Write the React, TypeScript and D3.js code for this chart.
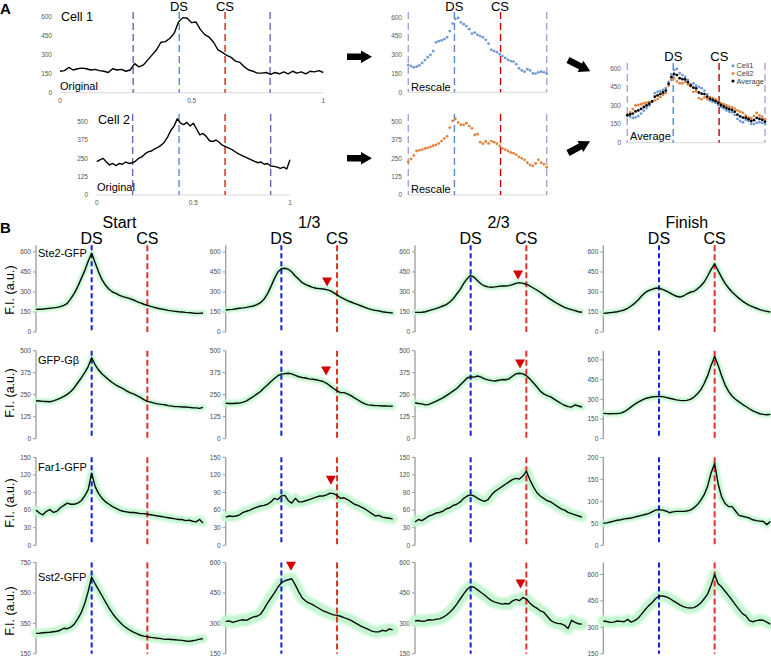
import React from 'react';
import * as d3 from 'd3';

const FONT = "'Liberation Sans', Arial, sans-serif";

// ---------------- Panel A data ----------------
// raw profiles along the cell (0..1), one value per step
const cell1Original = [170, 175, 200, 180, 190, 195, 190, 180, 185, 175, 170, 160, 190, 180, 185, 170, 180, 230, 205, 220, 260, 300, 340, 400, 405, 430, 470, 560, 595, 590, 555, 560, 500, 460, 440, 400, 340, 320, 295, 280, 250, 240, 205, 180, 170, 155, 155, 160, 145, 160, 150, 165, 150, 170, 155, 165, 150, 170, 165, 175, 160];
const cell2Original = [227, 240, 250, 225, 205, 215, 200, 215, 210, 225, 215, 220, 230, 250, 260, 280, 295, 300, 315, 325, 340, 360, 395, 440, 470, 520, 490, 480, 495, 470, 490, 450, 410, 420, 400, 370, 365, 375, 360, 340, 330, 320, 310, 295, 280, 270, 260, 250, 240, 230, 220, 225, 210, 215, 198, 195, 190, 182, 190, 178, 240];

// rescaled between the two purple marks
const cell1Rescaled = [218, 210, 200, 205, 215, 235, 258, 280, 300, 330, 400, 410, 415, 425, 440, 490, 550, 588, 595, 560, 545, 530, 505, 470, 478, 460, 450, 440, 420, 390, 340, 330, 322, 305, 290, 275, 260, 250, 245, 225, 192, 175, 165, 185, 175, 152, 150, 160, 165, 160, 150];
const cell2Rescaled = [225, 245, 270, 300, 305, 310, 318, 322, 328, 336, 342, 352, 368, 385, 400, 460, 505, 520, 495, 480, 478, 490, 470, 455, 410, 415, 360, 350, 365, 352, 368, 360, 350, 335, 318, 310, 300, 290, 285, 275, 260, 250, 240, 220, 205, 198, 215, 240, 220, 210, 190];
const averageRescaled = [222, 228, 235, 252, 260, 272, 288, 301, 314, 333, 371, 381, 392, 405, 420, 475, 528, 554, 545, 520, 512, 510, 488, 462, 444, 438, 405, 395, 392, 371, 354, 345, 336, 320, 304, 292, 280, 270, 265, 250, 226, 212, 202, 202, 190, 175, 182, 200, 192, 185, 170];

// purple / DS / CS / purple positions along each cell
const cell1Marks = [0.278, 0.453, 0.627, 0.798];
const cell2Marks = [0.186, 0.426, 0.664, 0.9];
const rescaledMarks = [0, 1 / 3, 2 / 3, 1];

const ticksA600 = [0, 150, 300, 450, 600];
const ticksA500 = [0, 125, 250, 375, 500];
const ticksLength = [0, 0.5, 1];
const legendNames = ['Cell1', 'Cell2', 'Average'];

// ---------------- Panel B data ----------------
const stageNames = ['Start', '1/3', '2/3', 'Finish'];
const proteinNames = ['Ste2-GFP', 'GFP-Gβ', 'Far1-GFP', 'Sst2-GFP'];
const siteMarks = [1 / 3, 2 / 3]; // DS, CS

const ste2Start = [170, 171, 172, 175, 178, 181, 185, 190, 200, 215, 250, 290, 340, 400, 460, 530, 590, 520, 450, 390, 350, 320, 300, 290, 275, 265, 258, 250, 240, 228, 218, 208, 200, 192, 185, 178, 172, 168, 162, 158, 155, 152, 150, 147, 145, 142, 140, 140, 142];
const ste2Third = [165, 168, 170, 174, 178, 181, 185, 190, 195, 205, 220, 245, 285, 340, 400, 450, 475, 478, 470, 450, 420, 395, 370, 355, 345, 335, 328, 325, 322, 318, 310, 295, 278, 262, 248, 235, 225, 215, 205, 195, 185, 175, 168, 162, 158, 152, 148, 145, 142];
const ste2TwoThird = [147, 147, 148, 152, 160, 168, 175, 185, 195, 205, 225, 250, 285, 320, 365, 400, 425, 410, 385, 360, 345, 338, 335, 338, 342, 345, 345, 348, 355, 365, 370, 365, 358, 345, 330, 315, 298, 280, 262, 245, 228, 212, 198, 185, 175, 168, 160, 152, 148];
const ste2Finish = [140, 142, 145, 148, 152, 158, 165, 178, 195, 215, 240, 270, 295, 310, 320, 328, 330, 320, 308, 295, 280, 268, 262, 270, 285, 298, 305, 322, 345, 375, 420, 470, 510, 460, 410, 365, 330, 300, 275, 252, 232, 215, 200, 188, 178, 168, 160, 155, 150];

const gbStart = [216, 214, 212, 211, 210, 215, 222, 230, 240, 252, 268, 290, 318, 345, 375, 410, 460, 420, 390, 368, 350, 333, 318, 305, 295, 285, 272, 262, 255, 245, 235, 222, 212, 208, 202, 198, 195, 193, 188, 185, 182, 182, 180, 180, 178, 176, 175, 172, 178];
const gbThird = [201, 200, 200, 201, 202, 208, 215, 228, 240, 255, 268, 288, 305, 325, 342, 358, 367, 370, 372, 368, 360, 352, 348, 345, 340, 338, 335, 330, 325, 315, 300, 285, 272, 262, 262, 255, 245, 232, 220, 208, 198, 192, 190, 188, 188, 186, 186, 185, 184];
const gbTwoThird = [204, 200, 198, 192, 195, 203, 212, 222, 232, 245, 258, 272, 285, 305, 325, 345, 352, 350, 356, 350, 340, 334, 330, 328, 332, 336, 335, 340, 355, 368, 372, 368, 358, 340, 318, 295, 270, 255, 245, 238, 225, 212, 200, 190, 182, 180, 192, 186, 180];
const gbFinish = [193, 191, 190, 191, 192, 195, 205, 222, 242, 262, 278, 292, 305, 312, 318, 320, 322, 320, 315, 308, 302, 296, 292, 290, 292, 300, 315, 340, 372, 420, 480, 560, 625, 560, 480, 410, 360, 325, 300, 280, 262, 245, 228, 212, 200, 190, 185, 182, 185];

const far1Start = [60, 55, 52, 58, 61, 56, 58, 64, 68, 72, 70, 70, 72, 76, 84, 95, 123, 100, 88, 80, 74, 70, 66, 63, 60, 58, 57, 56, 56, 55, 54, 54, 53, 52, 51, 50, 49, 48, 47, 46, 45, 44, 44, 42, 43, 41, 40, 44, 38];
const far1Third = [48, 50, 49, 50, 52, 56, 58, 60, 63, 65, 67, 68, 70, 74, 80, 78, 84, 85, 76, 72, 80, 74, 74, 76, 78, 80, 82, 84, 84, 86, 89, 88, 85, 80, 81, 78, 74, 70, 68, 65, 62, 58, 54, 50, 51, 48, 47, 46, 45];
const far1TwoThird = [40, 44, 42, 46, 50, 52, 55, 56, 58, 62, 64, 68, 70, 74, 80, 84, 86, 84, 80, 77, 75, 78, 86, 92, 96, 100, 104, 108, 112, 114, 113, 118, 126, 112, 100, 90, 84, 80, 76, 74, 70, 66, 62, 60, 56, 54, 52, 50, 48];
const far1Finish = [50, 51, 53, 55, 57, 58, 60, 61, 62, 64, 66, 68, 70, 72, 76, 80, 81, 80, 78, 74, 76, 77, 77, 77, 78, 80, 85, 92, 102, 115, 135, 165, 186, 140, 110, 95, 88, 88, 78, 68, 66, 64, 62, 58, 56, 55, 54, 47, 54];

const sst2Start = [284, 285, 288, 290, 292, 295, 298, 305, 318, 315, 325, 345, 380, 420, 480, 560, 655, 610, 570, 530, 490, 450, 415, 385, 360, 338, 320, 305, 292, 282, 272, 266, 262, 258, 255, 252, 250, 245, 246, 244, 242, 240, 238, 234, 232, 236, 240, 246, 250];
const sst2Third = [310, 312, 305, 310, 315, 318, 315, 325, 332, 335, 345, 370, 400, 425, 450, 478, 500, 510, 515, 520, 490, 455, 425, 410, 400, 392, 382, 372, 362, 355, 348, 342, 340, 335, 328, 322, 315, 305, 295, 285, 278, 270, 262, 258, 258, 266, 262, 272, 268];
const sst2TwoThird = [312, 314, 310, 312, 318, 316, 320, 322, 330, 340, 355, 372, 395, 420, 445, 468, 482, 478, 465, 452, 440, 425, 412, 405, 400, 395, 398, 396, 410, 418, 412, 428, 420, 400, 385, 375, 362, 355, 335, 315, 305, 300, 298, 290, 275, 315, 305, 298, 296];
const sst2Finish = [336, 333, 328, 330, 336, 334, 332, 345, 330, 338, 352, 375, 400, 422, 440, 462, 478, 478, 474, 465, 452, 440, 428, 418, 412, 410, 412, 422, 438, 462, 490, 540, 600, 548, 530, 505, 480, 455, 428, 402, 378, 365, 338, 332, 338, 342, 340, 330, 318];

const profiles = [
  [ste2Start, ste2Third, ste2TwoThird, ste2Finish],
  [gbStart, gbThird, gbTwoThird, gbFinish],
  [far1Start, far1Third, far1TwoThird, far1Finish],
  [sst2Start, sst2Third, sst2TwoThird, sst2Finish],
];

const yDomains = [
  [[0, 650], [0, 650], [0, 650], [0, 650]],
  [[0, 500], [0, 500], [0, 500], [0, 670]],
  [[0, 150], [0, 150], [0, 150], [0, 200]],
  [[150, 750], [150, 600], [150, 600], [150, 668]],
];
const ticks600 = [0, 150, 300, 450, 600];
const ticks500 = [0, 125, 250, 375, 500];
const ticks150 = [0, 30, 60, 90, 120, 150];
const ticks200 = [0, 50, 100, 150, 200];
const ticks750 = [150, 350, 550, 750];
const ticksSst = [150, 300, 450, 600];
const yTicks = [
  [ticks600, ticks600, ticks600, ticks600],
  [ticks500, ticks500, ticks500, ticks600],
  [ticks150, ticks150, ticks150, ticks200],
  [ticks750, ticksSst, ticksSst, ticksSst],
];

// red arrowheads: row, column, position along cell, intensity
const arrowRows = [0, 0, 1, 1, 2, 3, 3];
const arrowCols = [1, 2, 1, 2, 1, 1, 2];
const arrowPos = [0.607, 0.617, 0.601, 0.629, 0.63, 0.391, 0.632];
const arrowValues = [375, 428, 385, 424, 111, 582, 494];

// ---------------- layout ----------------
const colX = [36, 225.7, 415, 603.3];
const plotW = 167;
const rowBox = [[332, 245.3], [438.7, 350.7], [545.3, 457.3], [653.8, 562.5]];
const bandW = [[6, 6, 6, 6], [6, 7, 7, 6], [8, 10, 10, 7], [9, 12, 12, 11]];
const proteinBaseline = [257, 364, 471, 581];
const fiCenter = [290, 393, 503, 611];

const DS_BLUE = '#1320d6';
const CS_RED = '#e0312c';

type TraceProps = {
  series: { values: number[]; color: string }[];
  dots?: boolean;
  x0: number;
  x1: number;
  yDomain: [number, number];
  yBottom: number;
  yTop: number;
  ticks: number[];
  labelX: number;
  marks: number[];
  markColors: string[];
  markTop: number;
  xTicks?: number[];
  xLabelY?: number;
};

function TraceA(p: TraceProps) {
  const x = d3.scaleLinear().domain([0, 1]).range([p.x0, p.x1]);
  const y = d3.scaleLinear().domain(p.yDomain).range([p.yBottom, p.yTop]);
  return (
    <g>
      <line x1={p.x0} x2={p.x1} y1={p.yBottom} y2={p.yBottom} stroke="#d9d9d9" strokeWidth={1} />
      {p.ticks.map((t) => (
        <text key={t} x={p.labelX} y={y(t)} dy="0.35em" textAnchor="end" fontSize={6.5} fill="#595959">{t}</text>
      ))}
      {p.xTicks && p.xTicks.map((t) => (
        <text key={t} x={x(t)} y={p.xLabelY} dy="0.35em" textAnchor="middle" fontSize={6.5} fill="#595959">{t}</text>
      ))}
      {p.marks.map((m, i) => (
        <line key={i} x1={x(m)} x2={x(m)} y1={p.markTop} y2={p.yBottom} stroke={p.markColors[i]} strokeWidth={1.4} strokeDasharray="7,4" />
      ))}
      {p.series.map((s, k) => {
        const n = s.values.length - 1;
        if (p.dots) {
          return (
            <g key={k}>
              {s.values.map((v, i) => (
                <circle key={i} cx={x(i / n)} cy={y(v)} r={1.4} fill={s.color} />
              ))}
            </g>
          );
        }
        const line = d3.line<number>().x((_, i) => x(i / n)).y((d) => y(d));
        return <path key={k} d={line(s.values) || ''} fill="none" stroke={s.color} strokeWidth={1.4} strokeLinejoin="round" />;
      })}
    </g>
  );
}

const arrowShape = 'M0,-3.3 L14,-3.3 L14,-6.2 L25,0 L14,6.2 L14,3.3 L0,3.3 Z';

function PanelA() {
  const purple1 = '#7d5db3';
  const purple2 = '#ada0d6';
  const blueA = '#5a88d0';
  const redA = '#d42222';
  const colorsRaw = [purple1, blueA, redA, purple1];
  const colorsRescaled = [purple2, blueA, '#c40000', purple2];
  const blueDots = '#6e98d4';
  const orangeDots = '#e0823c';
  return (
    <g>
      <text x={0} y={13.5} fontSize={15} fontWeight="bold">A</text>

      {/* originals */}
      <TraceA series={[{ values: cell1Original, color: '#000' }]} x0={60} x1={323.3} yDomain={[0, 600]} yBottom={92.7} yTop={17}
        ticks={ticksA600} labelX={52} marks={cell1Marks} markColors={colorsRaw} markTop={12} xTicks={ticksLength} xLabelY={101} />
      <text x={179} y={11} fontSize={13} textAnchor="middle">DS</text>
      <text x={225} y={11} fontSize={13} textAnchor="middle">CS</text>
      <text x={61} y={21} fontSize={12.5}>Cell 1</text>
      <text x={60} y={89.5} fontSize={11}>Original</text>

      <TraceA series={[{ values: cell2Original, color: '#000' }]} x0={96.7} x1={290} yDomain={[0, 500]} yBottom={195} yTop={121.7}
        ticks={ticksA500} labelX={88} marks={cell2Marks} markColors={colorsRaw} markTop={114} xTicks={ticksLength} xLabelY={203} />
      <text x={98} y={123.5} fontSize={12.5}>Cell 2</text>
      <text x={97} y={191} fontSize={11}>Original</text>

      {/* rescaled */}
      <TraceA series={[{ values: cell1Rescaled, color: blueDots }]} dots x0={408.3} x1={546.7} yDomain={[0, 600]} yBottom={92.3} yTop={17.3}
        ticks={ticksA600} labelX={402} marks={rescaledMarks} markColors={colorsRescaled} markTop={12} />
      <text x={454.3} y={11} fontSize={13} textAnchor="middle">DS</text>
      <text x={500} y={11} fontSize={13} textAnchor="middle">CS</text>
      <text x={411} y={90.5} fontSize={11}>Rescale</text>

      <TraceA series={[{ values: cell2Rescaled, color: orangeDots }]} dots x0={408.3} x1={546.7} yDomain={[0, 500]} yBottom={195} yTop={121.7}
        ticks={ticksA500} labelX={402} marks={rescaledMarks} markColors={colorsRescaled} markTop={114} />
      <text x={411} y={193} fontSize={11}>Rescale</text>

      {/* average */}
      <TraceA series={[{ values: cell1Rescaled, color: blueDots }, { values: cell2Rescaled, color: orangeDots }, { values: averageRescaled, color: '#000' }]}
        dots x0={627.3} x1={765} yDomain={[0, 600]} yBottom={142.7} yTop={68.3}
        ticks={ticksA600} labelX={621} marks={rescaledMarks} markColors={colorsRescaled} markTop={63} />
      <text x={673.3} y={60.5} fontSize={13} textAnchor="middle">DS</text>
      <text x={719.3} y={60.5} fontSize={13} textAnchor="middle">CS</text>
      <text x={630} y={139.5} fontSize={11}>Average</text>
      {legendNames.map((name, i) => (
        <g key={name}>
          <circle cx={733} cy={65.7 + i * 7.7} r={1.5} fill={[blueDots, orangeDots, '#000'][i]} />
          <text x={736.5} y={65.7 + i * 7.7} dy="0.35em" fontSize={7.4} fill="#404040">{name}</text>
        </g>
      ))}

      {/* arrows */}
      <path d={arrowShape} transform="translate(347,56.7)" fill="#000" />
      <path d={arrowShape} transform="translate(347,158.3)" fill="#000" />
      <path d={arrowShape} transform="translate(568,60) rotate(27)" fill="#000" />
      <path d={arrowShape} transform="translate(568,153) rotate(-28)" fill="#000" />
    </g>
  );
}

function ProfileChart({ row, col }: { row: number; col: number }) {
  const values = profiles[row][col];
  const [bottom, top] = rowBox[row];
  const ax = colX[col];
  const x = d3.scaleLinear().domain([0, 1]).range([ax, ax + plotW]);
  const y = d3.scaleLinear().domain(yDomains[row][col]).range([bottom, top]);
  const n = values.length - 1;
  const line = d3.line<number>().x((_, i) => x(i / n)).y((d) => y(d));
  const d = line(values) || '';
  return (
    <g>
      <line x1={ax} x2={ax} y1={bottom} y2={top} stroke="#9b9b9b" strokeWidth={1.3} />
      {yTicks[row][col].map((t) => (
        <g key={t}>
          <line x1={ax - 3} x2={ax} y1={y(t)} y2={y(t)} stroke="#9b9b9b" strokeWidth={1} />
          <text x={ax - 5} y={y(t)} dy="0.35em" textAnchor="end" fontSize={6.5} fill="#4a4a4a">{t}</text>
        </g>
      ))}
      <path d={d} fill="none" stroke="#c3f6d0" strokeWidth={bandW[row][col]} strokeLinejoin="round" strokeLinecap="round" filter="url(#soft)" />
      {siteMarks.map((m, i) => (
        <line key={i} x1={x(m)} x2={x(m)} y1={top} y2={bottom} stroke={i === 0 ? DS_BLUE : CS_RED} strokeWidth={2}
          strokeDasharray={i === 0 ? '5,3' : '6,3'} />
      ))}
      <path d={d} fill="none" stroke="#0a0a0a" strokeWidth={1.4} strokeLinejoin="round" />
    </g>
  );
}

function PanelB() {
  return (
    <g>
      <text x={0} y={232.5} fontSize={15} fontWeight="bold">B</text>
      {stageNames.map((s, c) => {
        const x = d3.scaleLinear().domain([0, 1]).range([colX[c], colX[c] + plotW]);
        return (
          <g key={s}>
            <text x={x(0.5)} y={227.5} fontSize={16} textAnchor="middle">{s}</text>
            <text x={x(siteMarks[0])} y={243.5} fontSize={16} textAnchor="middle">DS</text>
            <text x={x(siteMarks[1])} y={243.5} fontSize={16} textAnchor="middle">CS</text>
          </g>
        );
      })}
      {profiles.map((r, ri) => r.map((_, ci) => <ProfileChart key={ri + '-' + ci} row={ri} col={ci} />))}
      {proteinNames.map((p, i) => (
        <text key={p} x={38} y={proteinBaseline[i]} fontSize={11}>{p}</text>
      ))}
      {fiCenter.map((cy, i) => (
        <text key={i} transform={`translate(14,${cy}) rotate(-90)`} textAnchor="middle" fontSize={12.5}>F.I. (a.u.)</text>
      ))}
      {arrowRows.map((r, i) => {
        const c = arrowCols[i];
        const x = d3.scaleLinear().domain([0, 1]).range([colX[c], colX[c] + plotW]);
        const y = d3.scaleLinear().domain(yDomains[r][c]).range(rowBox[r]);
        const cx = x(arrowPos[i]);
        const cy = y(arrowValues[i]);
        return <path key={i} d={`M${cx - 5},${cy - 4.5} L${cx + 5},${cy - 4.5} L${cx},${cy + 4.5} Z`} fill="#d40000" />;
      })}
    </g>
  );
}

export default function App() {
  return (
    <svg width={771} height={657} viewBox="0 0 771 657" fontFamily={FONT}
      style={{ position: 'absolute', left: 0, top: 0, background: '#fff' }}>
      <defs>
        <filter id="soft" filterUnits="userSpaceOnUse" x={0} y={0} width={771} height={657}>
          <feGaussianBlur stdDeviation={1} />
        </filter>
      </defs>
      <rect width={771} height={657} fill="#fff" />
      <PanelA />
      <PanelB />
    </svg>
  );
}
